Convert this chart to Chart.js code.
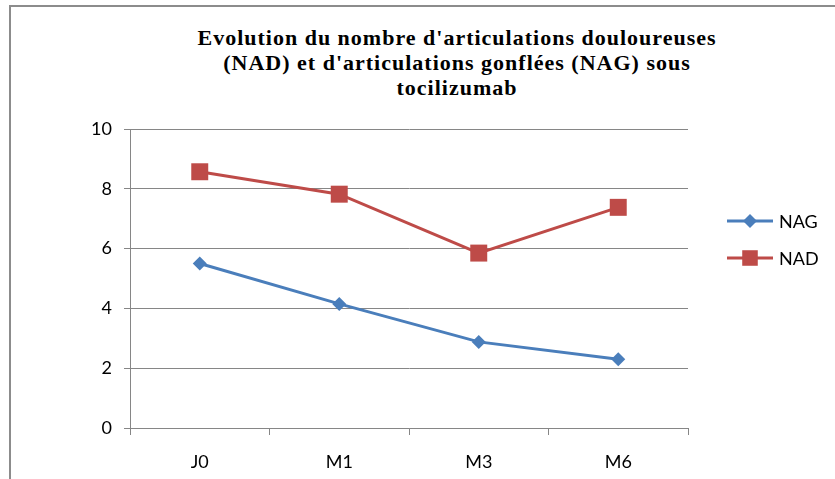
<!DOCTYPE html>
<html>
<head>
<meta charset="utf-8">
<script src="https://cdn.jsdelivr.net/npm/chart.js@4/dist/chart.umd.min.js"></script>
<style>
  html, body { margin: 0; padding: 0; background: #fff; }
  #wrap { position: relative; width: 835px; height: 479px; overflow: hidden; }
  #frame { position: absolute; left: 9px; top: 5px; right: 0; bottom: -10px;
           border-top: 2px solid #8c8c8c; border-left: 2px solid #8c8c8c; }
  #title { position: absolute; left: 107px; width: 700px; top: 25px;
           text-align: center; font-family: "Liberation Serif", serif; font-weight: bold;
           font-size: 22px; letter-spacing: 1px; line-height: 25px; color: #000; }
  canvas { position: absolute; left: 0; top: 0; }
</style>
</head>
<body>
<div id="wrap">
  <div id="frame"></div>
  <div id="title">Evolution du nombre d'articulations douloureuses<br>(NAD) et d'articulations gonflées (NAG) sous<br>tocilizumab</div>
  <canvas id="chart" width="835" height="479"></canvas>
</div>
<script>
const categories = ['J0', 'M1', 'M3', 'M6'];
const nagValues = [5.5, 4.15, 2.88, 2.3];
const nadValues = [8.57, 7.82, 5.85, 7.38];
const yTicks = [0, 2, 4, 6, 8, 10];

const blue = '#4A7EBB';
const red = '#BE4B48';
const gray = '#868686';
const font = 'Lato, "Open Sans", sans-serif';

// legend drawn by hand so each entry shows line + marker like the original
const legendPlugin = {
    id: 'sideLegend',
    afterDraw(chart) {
        const ctx = chart.ctx;
        const rows = [221, 258];
        chart.data.datasets.forEach((ds, i) => {
            const y = rows[i];
            ctx.save();
            ctx.strokeStyle = ds.borderColor;
            ctx.lineWidth = 3;
            ctx.beginPath();
            ctx.moveTo(727, y);
            ctx.lineTo(773, y);
            ctx.stroke();
            ctx.fillStyle = ds.backgroundColor;
            ctx.strokeStyle = ds.borderColor;
            Chart.helpers.drawPoint(ctx, {
                pointStyle: ds.pointStyle,
                radius: ds.pointStyle === 'rect' ? 11 : 7,
                borderWidth: 0
            }, 750, y);
            ctx.fillStyle = '#000';
            ctx.font = '18px ' + font;
            ctx.textBaseline = 'middle';
            ctx.fillText(ds.label, 779, y + 1);
            ctx.restore();
        });
    }
};

new Chart(document.getElementById('chart'), {
    type: 'line',
    data: {
        labels: categories,
        datasets: [
            {
                label: 'NAG',
                data: nagValues,
                borderColor: blue,
                backgroundColor: blue,
                borderWidth: 3,
                pointStyle: 'rectRot',
                pointRadius: 7,
                pointBorderWidth: 0,
                tension: 0
            },
            {
                label: 'NAD',
                data: nadValues,
                borderColor: red,
                backgroundColor: red,
                borderWidth: 3,
                pointStyle: 'rect',
                pointRadius: 12,
                pointBorderWidth: 0,
                tension: 0
            }
        ]
    },
    options: {
        responsive: false,
        animation: false,
        layout: { padding: { top: 129, right: 147, bottom: 0, left: 0 } },
        plugins: {
            legend: { display: false },
            title: { display: false },
            tooltip: { enabled: false }
        },
        scales: {
            x: {
                offset: true,
                grid: { offset: true, drawOnChartArea: false, drawTicks: true, tickLength: 7, color: gray },
                border: { color: gray, width: 1 },
                ticks: { color: '#000', font: { family: font, size: 18 }, padding: 16 },
                afterFit: s => { s.height = 51; }
            },
            y: {
                min: 0,
                max: 10,
                afterBuildTicks: s => { s.ticks = yTicks.map(v => ({ value: v })); },
                grid: { color: gray, tickLength: 6 },
                border: { color: gray, width: 1 },
                ticks: { color: '#000', font: { family: font, size: 18 }, padding: 12 },
                afterFit: s => { s.width = 130; }
            }
        }
    },
    plugins: [legendPlugin]
});
</script>
</body>
</html>
